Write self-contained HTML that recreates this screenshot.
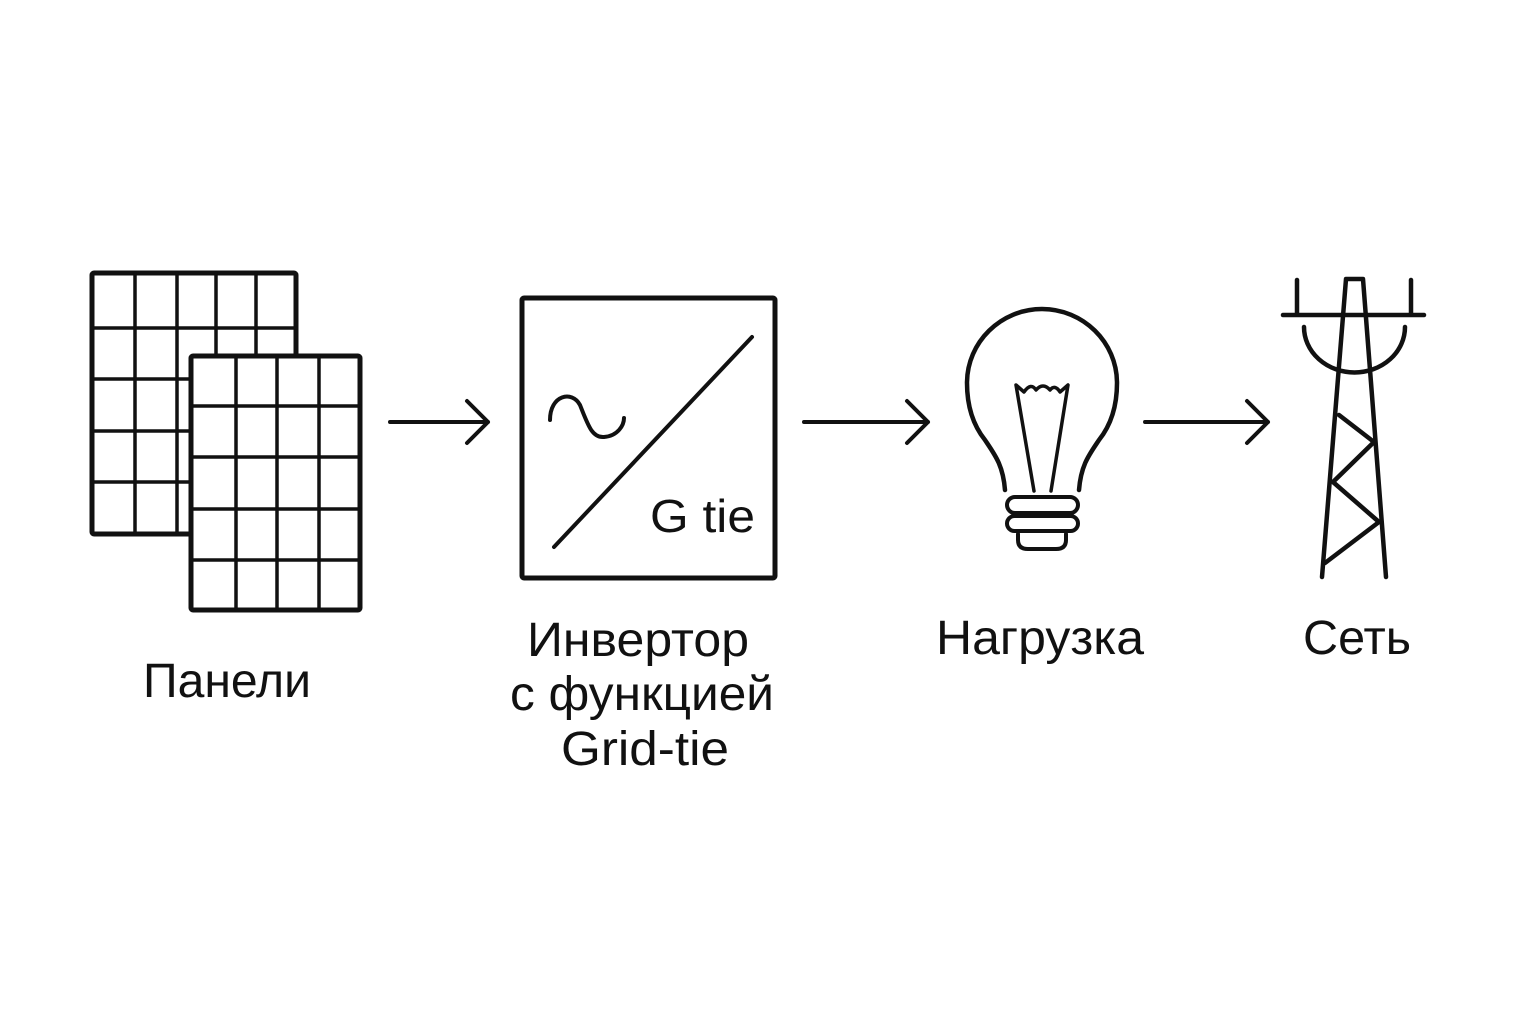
<!DOCTYPE html>
<html><head><meta charset="utf-8"><style>html,body{margin:0;padding:0;background:#fff}svg{display:block}</style></head>
<body>
<svg width="1536" height="1024" viewBox="0 0 1536 1024" xmlns="http://www.w3.org/2000/svg">
<rect width="1536" height="1024" fill="#fff"/>
<g stroke="#111" fill="none" stroke-linecap="round" stroke-linejoin="round">
<rect x="92" y="273" width="204" height="261" stroke-width="5" rx="2"/>
<g stroke-width="3.5">
<line x1="135" y1="273" x2="135" y2="534"/><line x1="177" y1="273" x2="177" y2="534"/>
<line x1="216" y1="273" x2="216" y2="356"/><line x1="256" y1="273" x2="256" y2="356"/>
<line x1="92" y1="328" x2="296" y2="328"/><line x1="92" y1="379" x2="191" y2="379"/>
<line x1="92" y1="431" x2="191" y2="431"/><line x1="92" y1="482" x2="191" y2="482"/>
</g>
<rect x="191" y="356" width="169" height="254" stroke-width="5" rx="2" fill="#fff"/>
<g stroke-width="3.5">
<line x1="236" y1="356" x2="236" y2="610"/><line x1="277" y1="356" x2="277" y2="610"/><line x1="319" y1="356" x2="319" y2="610"/>
<line x1="191" y1="406" x2="360" y2="406"/><line x1="191" y1="457" x2="360" y2="457"/><line x1="191" y1="509" x2="360" y2="509"/><line x1="191" y1="560" x2="360" y2="560"/>
</g>
<g stroke-width="4">
<path d="M390 422H488M467 401L488 422L467 443"/>
<path d="M804 422H928M907 401L928 422L907 443"/>
<path d="M1145 422H1268M1247 401L1268 422L1247 443"/>
</g>
<rect x="522" y="298" width="253" height="280" stroke-width="5" rx="2"/>
<line x1="554" y1="547" x2="752" y2="337" stroke-width="4"/>
<path d="M550 420C550 395 572 390 580 405C588 425 592 438 604 437C618 436 624 425 624 418" stroke-width="4"/>
<path d="M1005 490C1003 465 995 455 985 440C973 425 967 405 967 383C967 342 1001 309 1042 309C1083 309 1117 342 1117 383C1117 405 1111 425 1099 440C1089 455 1081 465 1079 490" stroke-width="4.5"/>
<rect x="1007" y="497" width="71" height="16" rx="8" stroke-width="4"/>
<rect x="1007" y="516" width="71" height="15" rx="7.5" stroke-width="4"/>
<path d="M1018 534V540Q1018 549 1028 549H1056Q1066 549 1066 540V534" stroke-width="4"/>
<path d="M1034 491L1016 385L1024 392Q1031 382 1036 390Q1043 382 1050 390Q1055 384 1060 392L1068 385L1051 491" stroke-width="3.5"/>
<g stroke-width="4.5">
<path d="M1322 577L1346 279H1363L1386 577"/>
<line x1="1283" y1="315" x2="1424" y2="315"/>
<line x1="1297" y1="280" x2="1297" y2="313"/><line x1="1411" y1="280" x2="1411" y2="313"/>
<path d="M1304 327A50 45 0 0 0 1405 327"/>
<path d="M1339 415L1374 442L1333 482L1379 522L1325 563"/>
</g>
</g>
<g font-family="Liberation Sans, sans-serif" fill="#111" text-anchor="middle">
<text x="650" y="532" font-size="46" text-anchor="start" textLength="105" lengthAdjust="spacingAndGlyphs">G tie</text>
<text x="227" y="697" font-size="48" textLength="168" lengthAdjust="spacingAndGlyphs">Панели</text>
<text x="638" y="656" font-size="48" textLength="222" lengthAdjust="spacingAndGlyphs">Инвертор</text>
<text x="642" y="710" font-size="48" textLength="264" lengthAdjust="spacingAndGlyphs">с функцией</text>
<text x="645" y="765" font-size="48" textLength="168" lengthAdjust="spacingAndGlyphs">Grid-tie</text>
<text x="1040" y="654" font-size="48" textLength="208" lengthAdjust="spacingAndGlyphs">Нагрузка</text>
<text x="1357" y="654" font-size="48" textLength="108" lengthAdjust="spacingAndGlyphs">Сеть</text>
</g>
</svg>
</body></html>
